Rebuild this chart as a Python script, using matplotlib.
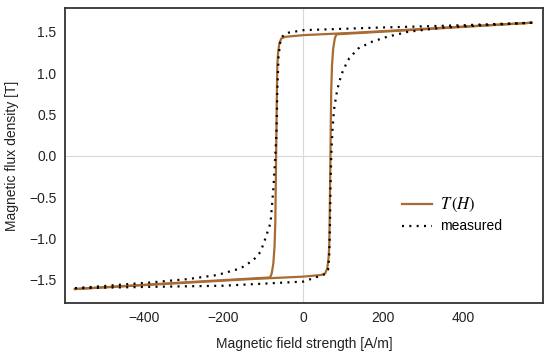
import matplotlib.pyplot as plt

plt.rcParams['font.family'] = ['Liberation Sans', 'DejaVu Sans']
plt.rcParams['mathtext.fontset'] = 'stix'

# T(H) model, ascending and descending branches
t_up_h = [-572, -132, 0, 45, 55, 60, 63, 65, 66, 67, 68, 69, 70, 72, 75, 79, 83, 300, 572]
t_up_b = [-1.61, -1.49, -1.46, -1.44, -1.42, -1.36, -1.25, -1.1, -0.8, -0.4, 0.0, 0.4, 0.8, 1.1, 1.3, 1.42, 1.47, 1.53, 1.61]
t_down_h = [572, 132, 0, -45, -55, -60, -63, -65, -66, -67, -68, -69, -70, -72, -75, -79, -83, -300, -572]
t_down_b = [1.61, 1.49, 1.46, 1.44, 1.42, 1.36, 1.25, 1.1, 0.8, 0.4, 0.0, -0.4, -0.8, -1.1, -1.3, -1.42, -1.47, -1.53, -1.61]

# measured loop
m_up_h = [-572, -400, -200, -120, 0, 37, 55, 62, 65, 67, 68, 70, 73, 77, 85, 93, 100, 115, 138, 172, 210, 262, 347, 450, 572]
m_up_b = [-1.60, -1.585, -1.57, -1.55, -1.52, -1.46, -1.43, -1.38, -1.2, -0.8, -0.4, 0.0, 0.3, 0.56, 0.80, 0.94, 1.04, 1.18, 1.30, 1.38, 1.44, 1.50, 1.55, 1.58, 1.61]
m_down_h = [572, 400, 180, 0, -37, -50, -57, -62, -65, -67, -70, -75, -82, -95, -107, -125, -157, -215, -290, -382, -572]
m_down_b = [1.61, 1.58, 1.55, 1.52, 1.49, 1.46, 1.40, 1.2, 0.8, 0.3, 0.0, -0.4, -0.81, -1.0, -1.16, -1.26, -1.36, -1.44, -1.49, -1.53, -1.60]

brown = '#a86b32'

fig = plt.figure(figsize=(5.5, 3.57), dpi=100)
ax = fig.add_axes([0.118, 0.151, 0.869, 0.827])

ax.axhline(0, color='#d8d8d8', lw=0.8, zorder=0)
ax.axvline(0, color='#d8d8d8', lw=0.8, zorder=0)

ax.plot(t_up_h, t_up_b, color=brown, lw=1.6, label=r'$T\,(H)$', solid_joinstyle='round')
ax.plot(t_down_h, t_down_b, color=brown, lw=1.6, solid_joinstyle='round')
ax.plot(m_up_h, m_up_b, color='black', lw=1.6, ls=(0, (0.9, 2.4)), label='measured')
ax.plot(m_down_h, m_down_b, color='black', lw=1.6, ls=(0, (0.9, 2.4)))

ax.set_xlim(-597, 600)
ax.set_ylim(-1.78, 1.79)
ax.set_xticks([-400, -200, 0, 200, 400])
ax.set_yticks([-1.5, -1.0, -0.5, 0.0, 0.5, 1.0, 1.5])
ax.set_yticklabels(['\u22121.5', '\u22121.0', '\u22120.5', '0.0', '0.5', '1.0', '1.5'])
ax.set_xticklabels(['\u2212400', '\u2212200', '0', '200', '400'])
ax.tick_params(length=0, labelsize=10, colors='#222222', pad=6)

for s in ax.spines.values():
    s.set_color('#333333')
    s.set_linewidth(1.3)

ax.set_xlabel('Magnetic field strength [A/m]', fontsize=10, color='#222222', labelpad=8)
ax.set_ylabel('Magnetic flux density [T]', fontsize=10, color='#222222', labelpad=7)

leg = ax.legend(loc='center left', bbox_to_anchor=(0.68, 0.30), frameon=False,
                fontsize=10, handlelength=2.1, handletextpad=0.6, labelspacing=0.4)
leg.get_texts()[0].set_fontsize(12)

fig.savefig('out.png', dpi=100)
